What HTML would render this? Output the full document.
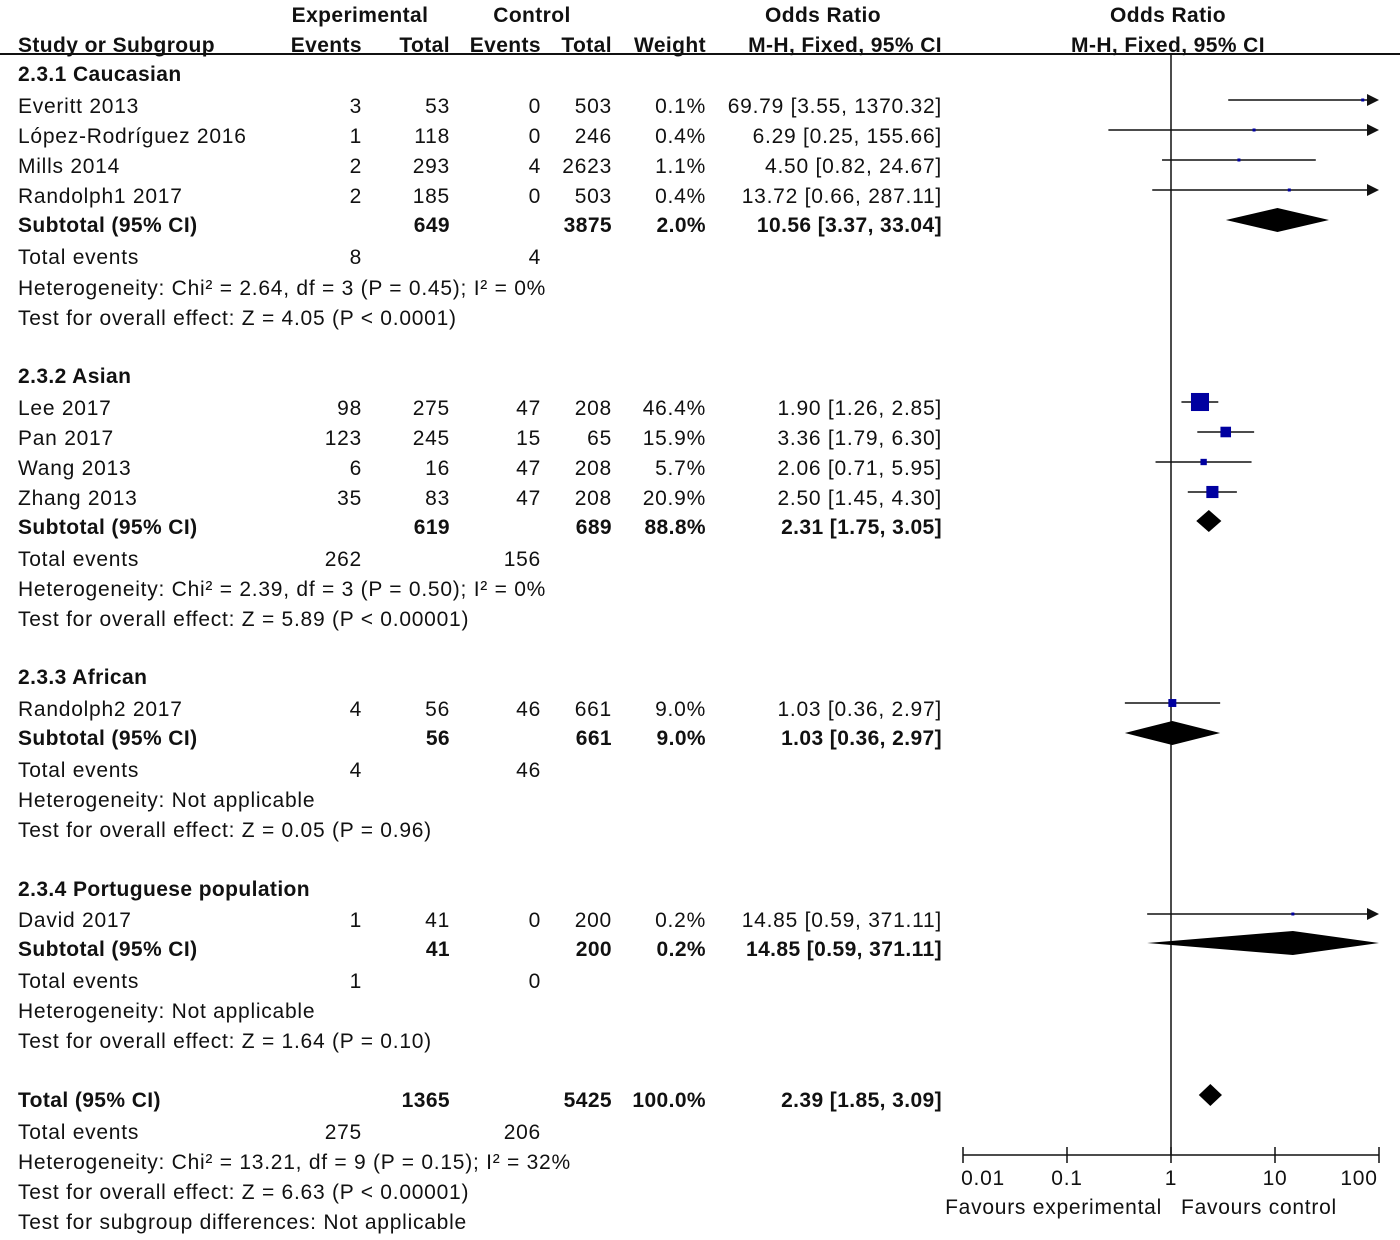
<!DOCTYPE html>
<html><head><meta charset="utf-8"><style>
html,body{margin:0;padding:0;background:#fff;}
svg{display:block;}
text{font-family:"Liberation Sans",Arial,sans-serif;font-size:21px;fill:#111;letter-spacing:0.75px;}
.b{font-weight:bold;letter-spacing:0.4px;}
</style></head><body>
<svg id="plot" width="1400" height="1240" viewBox="0 0 1400 1240" xmlns="http://www.w3.org/2000/svg">
<g id="tbl"></g>
<g id="chart"></g>
</svg>
<script>
// Study data
const studyNames = ["Everitt 2013","López-Rodríguez 2016","Mills 2014","Randolph1 2017","Lee 2017","Pan 2017","Wang 2013","Zhang 2013","Randolph2 2017","David 2017"];
const studyOR = [69.79,6.29,4.50,13.72,1.90,3.36,2.06,2.50,1.03,14.85];
const studyLo = [3.55,0.25,0.82,0.66,1.26,1.79,0.71,1.45,0.36,0.59];
const studyHi = [1370.32,155.66,24.67,287.11,2.85,6.30,5.95,4.30,2.97,371.11];
const studyWeight = [0.1,0.4,1.1,0.4,46.4,15.9,5.7,20.9,9.0,0.2];
const subOR = [10.56,2.31,1.03,14.85,2.39];
const subLo = [3.37,1.75,0.36,0.59,1.85];
const subHi = [33.04,3.05,2.97,371.11,3.09];
const axisTicks = [0.01,0.1,1,10,100];
const axisTickLabels = ["0.01","0.1","1","10","100"];

const NS="http://www.w3.org/2000/svg";
const tbl=document.getElementById('tbl'), chart=document.getElementById('chart');
function mk(tag,attrs,parent){const e=document.createElementNS(NS,tag);for(const k in attrs)e.setAttribute(k,attrs[k]);parent.appendChild(e);return e;}
function txt(s,x,y,anchor,bold,name){const e=mk('text',{x:x,y:y,'text-anchor':anchor||'start'},tbl);if(bold)e.setAttribute('class','b');e.textContent=s;


return e;}

const xMin=0.01,xMax=100,pxMin=963,pxMax=1379;
function xs(v){return pxMin+(Math.log10(v)-Math.log10(xMin))/(Math.log10(xMax)-Math.log10(xMin))*(pxMax-pxMin);}
const cols=[362,450,541,612,706,942];

// header
txt("Experimental",360,22,'middle',true,'header-experimental');
txt("Control",532,22,'middle',true,'header-control');
txt("Odds Ratio",823,22,'middle',true,'header-odds-ratio');
txt("Odds Ratio",1168,22,'middle',true,'header-odds-ratio-plot');
txt("Study or Subgroup",18,52,'start',true,'header-study');
["Events","Total","Events","Total","Weight","M-H, Fixed, 95% CI"].forEach((s,i)=>txt(s,cols[i],52,'end',true,'header-col'));
txt("M-H, Fixed, 95% CI",1168,52,'middle',true,'header-plot-method');
const hl=mk('line',{x1:0,y1:54,x2:1400,y2:54,stroke:'#111','stroke-width':2},tbl);



// rows
const studyRows=[[3,53,0,503],[1,118,0,246],[2,293,4,2623],[2,185,0,503],[98,275,47,208],[123,245,15,65],[6,16,47,208],[35,83,47,208],[4,56,46,661],[1,41,0,200]];
const studyY=[106,136,166,196,408,438,468,498,709,920];
const groups=[
 {title:"2.3.1 Caucasian",ty:74,sy:225,tot:[649,3875,"2.0%"],ev:[8,4],evy:257,het:"Heterogeneity: Chi² = 2.64, df = 3 (P = 0.45); I² = 0%",hy:288,test:"Test for overall effect: Z = 4.05 (P < 0.0001)",tey:318},
 {title:"2.3.2 Asian",ty:376,sy:527,tot:[619,689,"88.8%"],ev:[262,156],evy:559,het:"Heterogeneity: Chi² = 2.39, df = 3 (P = 0.50); I² = 0%",hy:589,test:"Test for overall effect: Z = 5.89 (P < 0.00001)",tey:619},
 {title:"2.3.3 African",ty:677,sy:738,tot:[56,661,"9.0%"],ev:[4,46],evy:770,het:"Heterogeneity: Not applicable",hy:800,test:"Test for overall effect: Z = 0.05 (P = 0.96)",tey:830},
 {title:"2.3.4 Portuguese population",ty:889,sy:949,tot:[41,200,"0.2%"],ev:[1,0],evy:981,het:"Heterogeneity: Not applicable",hy:1011,test:"Test for overall effect: Z = 1.64 (P = 0.10)",tey:1041}
];
const fmt=v=>v.toFixed(2);
const ci=(o,l,h)=>fmt(o)+" ["+fmt(l)+", "+fmt(h)+"]";
studyNames.forEach((n,i)=>{
 const y=studyY[i]+7;
 txt(n,18,y,'start',false,'study-name');
 studyRows[i].forEach((v,j)=>txt(String(v),cols[j],y,'end',false,'study-value'));
 txt(studyWeight[i].toFixed(1)+"%",cols[4],y,'end',false,'study-weight');
 txt(ci(studyOR[i],studyLo[i],studyHi[i]),cols[5],y,'end',false,'study-ci');
});
groups.forEach((g,i)=>{
 txt(g.title,18,g.ty+7,'start',true,'subgroup-title');
 txt("Subtotal (95% CI)",18,g.sy+7,'start',true,'subtotal-label');
 txt(String(g.tot[0]),cols[1],g.sy+7,'end',true,'subtotal-exp-total');
 txt(String(g.tot[1]),cols[3],g.sy+7,'end',true,'subtotal-ctrl-total');
 txt(g.tot[2],cols[4],g.sy+7,'end',true,'subtotal-weight');
 txt(ci(subOR[i],subLo[i],subHi[i]),cols[5],g.sy+7,'end',true,'subtotal-ci');
 txt("Total events",18,g.evy+7,'start',false,'total-events-label');
 txt(String(g.ev[0]),cols[0],g.evy+7,'end',false,'total-events-exp');
 txt(String(g.ev[1]),cols[2],g.evy+7,'end',false,'total-events-ctrl');
 txt(g.het,18,g.hy+7,'start',false,'heterogeneity');
 txt(g.test,18,g.tey+7,'start',false,'overall-effect');
});
txt("Total (95% CI)",18,1107,'start',true,'total-label');
txt("1365",cols[1],1107,'end',true,'total-exp');
txt("5425",cols[3],1107,'end',true,'total-ctrl');
txt("100.0%",cols[4],1107,'end',true,'total-weight');
txt(ci(subOR[4],subLo[4],subHi[4]),cols[5],1107,'end',true,'total-ci');
txt("Total events",18,1139,'start',false,'total-events-label');
txt("275",cols[0],1139,'end',false,'total-events-exp');
txt("206",cols[2],1139,'end',false,'total-events-ctrl');
txt("Heterogeneity: Chi² = 13.21, df = 9 (P = 0.15); I² = 32%",18,1169,'start',false,'total-heterogeneity');
txt("Test for overall effect: Z = 6.63 (P < 0.00001)",18,1199,'start',false,'total-overall-effect');
txt("Test for subgroup differences: Not applicable",18,1229,'start',false,'subgroup-differences');

// chart
const axY=1155;
const vl=mk('line',{x1:xs(1),y1:54,x2:xs(1),y2:axY,stroke:'#111','stroke-width':1.5},chart);


const ax=mk('line',{x1:pxMin,y1:axY,x2:pxMax,y2:axY,stroke:'#111','stroke-width':1.5},chart);


axisTicks.forEach((t,i)=>{
 const tk=mk('line',{x1:xs(t),y1:axY-8,x2:xs(t),y2:axY+8,stroke:'#111','stroke-width':1.5},chart);
 
 
 const lb=mk('text',{x:xs(t)+(i==0?20:i==4?-20:0),y:1185,'text-anchor':'middle'},chart);
 lb.textContent=axisTickLabels[i];
 
 
});
const f1=mk('text',{x:1162,y:1214,'text-anchor':'end'},chart);f1.textContent="Favours experimental";


const f2=mk('text',{x:1181,y:1214,'text-anchor':'start'},chart);f2.textContent="Favours control";



function clampX(v){return Math.max(pxMin,Math.min(pxMax,xs(v)));}
studyNames.forEach((n,i)=>{
 const y=studyY[i]-6;
 const x1=clampX(studyLo[i]), x2=clampX(studyHi[i]);
 const arrow=studyHi[i]>xMax;
 const ln=mk('line',{x1:x1,y1:y,x2:arrow?x2-8:x2,y2:y,stroke:'#111','stroke-width':1.5},chart);
 
 
 if(arrow){
  const ar=mk('polygon',{points:`${x2},${y} ${x2-12},${y-6} ${x2-12},${y+6}`,fill:'#111'},chart);
  
  
 }
 const s=Math.max(3,2.65*Math.sqrt(studyWeight[i]));
 const cx=xs(studyOR[i]);
 const sq=mk('rect',{x:cx-s/2,y:y-s/2,width:s,height:s,fill:'#0000a0'},chart);
 
 
});
const diaY=[220,521,733,943,1095];
const diaH=[12,11,12,12,11];
subOR.forEach((o,i)=>{
 const y=diaY[i],h=diaH[i];
 const l=clampX(subLo[i]),r=clampX(subHi[i]),c=xs(o);
 const d=mk('polygon',{points:`${l},${y} ${c},${y-h} ${r},${y} ${c},${y+h}`,fill:'#000'},chart);
 
 
});
</script>
</body></html>
